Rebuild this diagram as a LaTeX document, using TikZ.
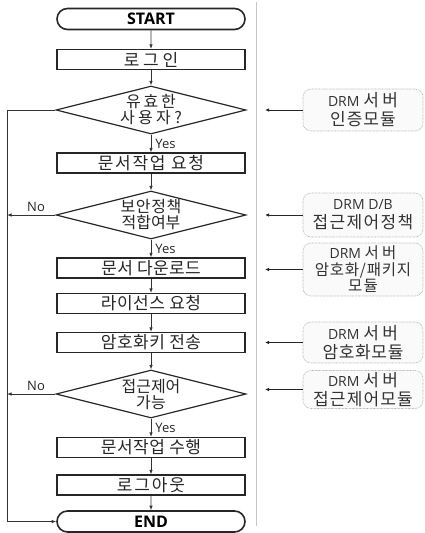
\documentclass[tikz,border=0pt]{standalone}
\usepackage{fontspec}
\usetikzlibrary{shapes.geometric,shapes.misc,arrows.meta}
\newfontfamily\kr{Noto Sans CJK KR}
\newfontfamily\en{Open Sans}
% letter spacing for the Korean labels
\newcommand\lsp[1]{\addfontfeatures{LetterSpace=#1}}
\newcommand\drm[1]{{\en\fontsize{14}{18}\selectfont #1}}

\begin{document}
\begin{tikzpicture}[x=1pt,y=-1pt,
  proc/.style={draw=black!85, line width=1.3pt, minimum width=188pt, minimum height=20pt,
    inner sep=0pt, font=\kr\fontsize{17}{17}\selectfont, text=black!85},
  term/.style={rounded rectangle, draw=black!85, line width=1.6pt, minimum width=188pt,
    minimum height=21pt, inner sep=0pt, font=\en\bfseries\fontsize{16}{16}\selectfont},
  dec/.style={diamond, draw=black!85, line width=1.2pt, minimum width=190pt,
    minimum height=48pt, inner sep=0pt},
  dectext/.style={font=\kr\fontsize{16}{16}\selectfont, align=center, inner sep=0pt, text=black!85},
  module/.style={draw=gray!60, dash pattern=on 0.7pt off 0.7pt, line width=0.6pt,
    rounded corners=8pt, fill=gray!4, minimum width=120pt, inner sep=0pt, align=center,
    font=\kr\fontsize{17}{19}\selectfont, text=black!80},
  flow/.style={draw=black!80, line width=0.8pt, -{Latex[length=4.5pt,width=3.5pt]}},
  link/.style={draw=black!85, solid, line width=1pt, -{Latex[length=4pt,width=3.5pt]}},
  lbl/.style={font=\en\fontsize{13}{15}\selectfont, inner sep=0pt, text=black!85}
]
\useasboundingbox (0,0) rectangle (425,533);

% main flow
\node[term] (start) at (151,19) {START};
\node[proc] (login) at (151,59.5) {\lsp{22}로그인};
\node[dec, label={[dectext]center:{\lsp{17}유효한}\\{\lsp{21}사용자?}}] (valid) at (151,110) {};
\node[proc] (req) at (151,163) {\lsp{10}문서작업 요청};
\node[dec, label={[dectext]center:{\lsp{4}보안정책}\\{\lsp{0}적합여부}}] (policy) at (151,215) {};
\node[proc] (down) at (151,268) {\lsp{2}문서 다운로드};
\node[proc] (lic) at (151,303.5) {\lsp{3}라이선스 요청};
\node[proc] (key) at (151,342.5) {\lsp{3}암호화키 전송};
\node[dec, label={[dectext]center:{\lsp{0}접근제어}\\{\lsp{2}가능}}] (acc) at (151,394) {};
\node[proc] (work) at (151,447.5) {\lsp{3}문서작업 수행};
\node[proc] (logout) at (151,485) {\lsp{11}로그아웃};
\node[term] (end) at (151,521.5) {END};

\draw[flow] (start) -- (login);
\draw[flow] (login) -- (valid);
\draw[flow] (valid) -- node[lbl, anchor=west, xshift=4pt] {Yes} (req);
\draw[flow] (req) -- (policy);
\draw[flow] (policy) -- node[lbl, anchor=west, xshift=4pt] {Yes} (down);
\draw[flow] (down) -- (lic);
\draw[flow] (lic) -- (key);
\draw[flow] (key) -- (acc);
\draw[flow] (acc) -- node[lbl, anchor=west, xshift=4pt] {Yes} (work);
\draw[flow] (work) -- (logout);
\draw[flow] (logout) -- (end);

% failure rail on the left
\coordinate (rail) at (7,0);
\draw[flow] (valid.west) -- (valid.west -| rail) |- (end.west);
\draw[flow] (policy.west) -- node[lbl, above=3pt, pos=0.4] {No} (policy.west -| rail);
\draw[flow] (acc.west) -- node[lbl, above=3pt, pos=0.4] {No} (acc.west -| rail);

% separator
\coordinate (sepTop) at (256,2);
\coordinate (sepBot) at (256,526);
\draw[gray!45, line width=0.5pt] (sepTop) -- (sepBot);

% server modules
\node[module, minimum height=42pt] (m1) at (363,110) {\drm{DRM} {\lsp{20}서버}\\{\lsp{6}인증모듈}};
\node[module, minimum height=44pt] (m2) at (363,215) {\drm{DRM D/B}\\{\lsp{8}접근제어정책}};
\node[module, minimum height=53pt, font=\kr\fontsize{15.5}{16.5}\selectfont] (m3) at (363,269.5)
  {\drm{DRM} {\lsp{22}서버}\\{\lsp{5}암호화/패키지}\\{\lsp{8}모듈}};
\node[module, minimum height=41pt] (m4) at (363,342.5) {\drm{DRM} {\lsp{20}서버}\\{\lsp{4}암호화모듈}};
\node[module, minimum height=38pt] (m5) at (363,389.5) {\drm{DRM} {\lsp{20}서버}\\{\lsp{7}접근제어모듈}};

% arrows from the left edge of each module towards the flow
\coordinate (t1) at (265,110);
\coordinate (t2) at (265,215);
\coordinate (t3) at (265,269.5);
\coordinate (t4) at (265,342.5);
\coordinate (t5) at (265,389.5);
\draw[link] (m1.west) -- (t1);
\draw[link] (m2.west) -- (t2);
\draw[link] (m3.west) -- (t3);
\draw[link] (m4.west) -- (t4);
\draw[link] (m5.west) -- (t5);
\end{tikzpicture}
\end{document}
